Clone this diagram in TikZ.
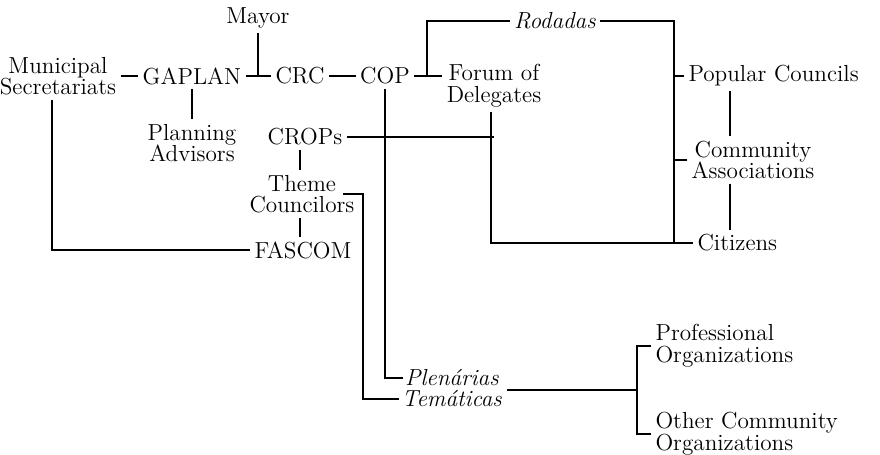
\documentclass[tikz,border=0pt]{standalone}
\usepackage{tikz}

\begin{document}
\begin{tikzpicture}[x=0.5pt,y=-0.5pt,line width=0.55pt,
                    every node/.style={align=center,inner sep=2pt,
                      font=\fontsize{11.6}{10.8}\selectfont}]
  \useasboundingbox (0,0) rectangle (880,455);

  \node (mayor)  at (258,18)  {Mayor};
  \node (munsec) at (58,76)   {Municipal\\Secretariats};
  \node (gaplan) at (192,76)  {GAPLAN};
  \node (crc)    at (300,76)  {CRC};
  \node (cop)    at (385,76)  {COP};
  \node (rod)    at (555,21)  {\emph{Rodadas}};
  \node (forum)  at (494,86)  {Forum of\\Delegates};
  \node (plan)   at (192,143) {Planning\\Advisors};
  \node (crops)  at (305,137) {CROPs};
  \node (theme)  at (302,194) {Theme\\Councilors};
  \node (fascom) at (303,250) {FASCOM};
  \node[anchor=west] (popc) at (684,76)  {Popular Councils};
  \node (comm)   at (753,160) {Community\\Associations};
  \node[anchor=west] (cit)  at (693,243) {Citizens};
  \node[inner sep=1pt] (plen) at (452,378) {\emph{Plen\'arias}};
  \node[inner sep=1pt] (tema) at (452,399) {\emph{Tem\'aticas}};
  \node[anchor=west,align=left] (prof)  at (651,346) {Professional\\Organizations};
  \node[anchor=west,align=left] (other) at (651,434) {Other Community\\Organizations};

  \coordinate (fork)  at (427,76);
  \coordinate (rbar)  at (674,243);
  \coordinate (pbar)  at (730,0);
  \coordinate (tbar)  at (300,0);
  \coordinate (tbend) at (363,194);
  \coordinate (obar)  at (637,390);

  % top row
  \draw (munsec) -- (gaplan);
  \draw (gaplan) -- (crc);
  \draw (mayor) -- (mayor |- crc);
  \draw (crc) -- (cop);
  \draw (cop) -- (forum.west |- cop);
  \draw (rod) -| (fork);
  \draw (gaplan) -- (plan);

  % right bracket
  \draw (rod) -| (rbar);
  \draw (popc) -- (popc -| rbar);
  \draw (comm) -- (comm -| rbar);
  \draw ([xshift=-1.5pt]forum.south) |- (cit);
  \draw (pbar |- popc.south) -- (pbar |- comm.north);
  \draw (pbar |- comm.south) -- (pbar |- cit.north);

  % middle column
  \draw (crops) -- (crops -| forum.south);
  \draw (tbar |- crops.south) -- (tbar |- theme.north);
  \draw (tbar |- theme.south) -- (tbar |- fascom.north);
  \draw ([xshift=-3pt]munsec.south) |- (fascom);
  \draw ([xshift=-8pt]theme.east) -- (tbend) |- (tema);
  \draw (cop) |- (plen);

  % bottom
  \draw ([xshift=1pt]tema.east |- obar) -- (obar);
  \draw (prof) -| (obar) |- (other);
\end{tikzpicture}
\end{document}
